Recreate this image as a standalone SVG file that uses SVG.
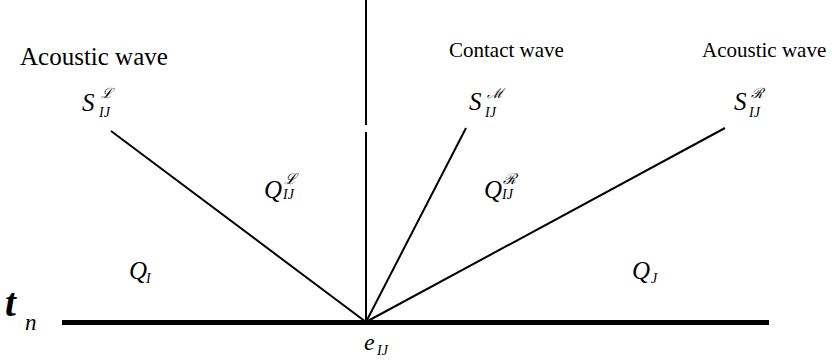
<svg xmlns="http://www.w3.org/2000/svg" width="832" height="362" viewBox="0 0 832 362">
<defs>
<style>
.ln{stroke:#000;stroke-width:2;fill:none}
</style>
</defs>
<rect width="832" height="362" fill="#fff"/>
<g id="connectors">
<line class="ln" x1="366" y1="0" x2="366" y2="125"/>
<line class="ln" x1="366" y1="132" x2="366" y2="322"/>
<line class="ln" x1="111" y1="131" x2="366" y2="322"/>
<line class="ln" x1="466" y1="128" x2="366" y2="322"/>
<line class="ln" x1="725" y1="128" x2="366" y2="322"/>
<line x1="62" y1="322.5" x2="769" y2="322.5" stroke="#000" stroke-width="5"/>
</g>
<g id="label-acoustic-left"><text x="20" y="65" font-size="25" font-family="Liberation Serif">Acoustic wave</text></g>
<g id="label-contact"><text x="449" y="57" font-size="21" font-family="Liberation Serif">Contact wave</text></g>
<g id="label-acoustic-right"><text x="702" y="57" font-size="21" font-family="Liberation Serif">Acoustic wave</text></g>
<g id="S-L">
<text x="82" y="111" font-size="25" font-family="Liberation Serif" font-style="italic">S</text>
<text x="101" y="98" font-size="14" font-family="Liberation Serif" font-style="italic">ℒ</text>
<text x="99" y="117" font-size="14" font-family="Liberation Serif" font-style="italic">IJ</text>
</g>
<g id="S-M">
<text x="469" y="110" font-size="25" font-family="Liberation Serif" font-style="italic">S</text>
<text x="487" y="98" font-size="14" font-family="Liberation Serif" font-style="italic">ℳ</text>
<text x="485" y="117" font-size="14" font-family="Liberation Serif" font-style="italic">IJ</text>
</g>
<g id="S-R">
<text x="734" y="110" font-size="25" font-family="Liberation Serif" font-style="italic">S</text>
<text x="751" y="98" font-size="14" font-family="Liberation Serif" font-style="italic">ℛ</text>
<text x="749" y="117" font-size="14" font-family="Liberation Serif" font-style="italic">IJ</text>
</g>
<g id="Q-L">
<text x="264" y="198" font-size="25" font-family="Liberation Serif" font-style="italic">Q</text>
<text x="284" y="184" font-size="15" font-family="Liberation Serif" font-style="italic">ℒ</text>
<text x="283" y="199" font-size="14" font-family="Liberation Serif" font-style="italic">IJ</text>
</g>
<g id="Q-R">
<text x="484" y="198" font-size="25" font-family="Liberation Serif" font-style="italic">Q</text>
<text x="503" y="184" font-size="15" font-family="Liberation Serif" font-style="italic">ℛ</text>
<text x="502" y="199" font-size="14" font-family="Liberation Serif" font-style="italic">IJ</text>
</g>
<g id="Q-I">
<text x="129" y="279" font-size="25" font-family="Liberation Serif" font-style="italic">Q</text>
<text x="146" y="283" font-size="14" font-family="Liberation Serif" font-style="italic">I</text>
</g>
<g id="Q-J">
<text x="632" y="279" font-size="25" font-family="Liberation Serif" font-style="italic">Q</text>
<text x="651" y="283" font-size="14" font-family="Liberation Serif" font-style="italic">J</text>
</g>
<g id="t-n">
<text x="5" y="316" font-size="39" font-family="Liberation Serif" font-style="italic" font-weight="bold">t</text>
<text x="25" y="330" font-size="23" font-family="Liberation Serif" font-style="italic">n</text>
</g>
<g id="e-IJ">
<text x="364" y="350" font-size="24" font-family="Liberation Serif" font-style="italic">e</text>
<text x="377" y="355" font-size="14" font-family="Liberation Serif" font-style="italic">IJ</text>
</g>
</svg>
